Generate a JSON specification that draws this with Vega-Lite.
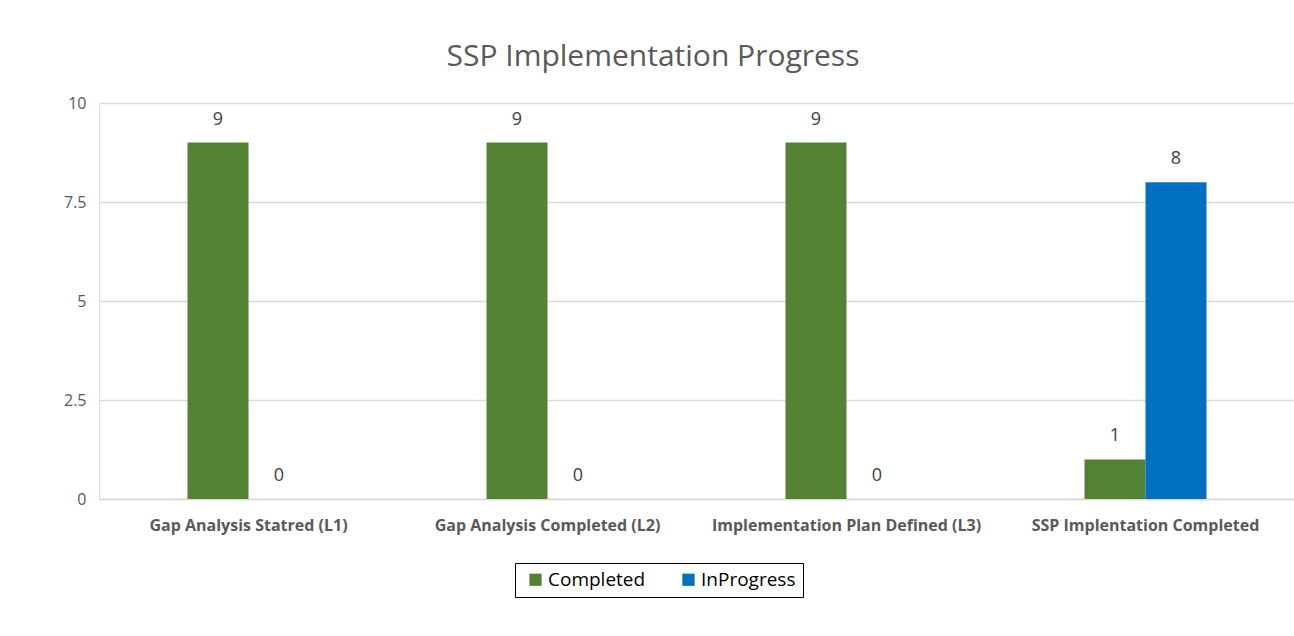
{
  "$schema": "https://vega.github.io/schema/vega-lite/v6.json",
  "width": 1196,
  "height": 396,
  "autosize": {"type": "none"},
  "padding": {"left": 99, "top": 103, "right": 0, "bottom": 137},
  "background": "white",
  "title": {
    "text": "SSP Implementation Progress",
    "fontSize": 30,
    "font": "Open Sans",
    "fontWeight": "normal",
    "color": "#595959",
    "dx": -44,
    "offset": 23
  },
  "data": {
    "values": [
      {"category": "Gap Analysis Statred (L1)", "status": "Completed", "value": 9},
      {"category": "Gap Analysis Statred (L1)", "status": "InProgress", "value": 0},
      {"category": "Gap Analysis Completed  (L2)", "status": "Completed", "value": 9},
      {"category": "Gap Analysis Completed  (L2)", "status": "InProgress", "value": 0},
      {"category": "Implementation Plan Defined (L3)", "status": "Completed", "value": 9},
      {"category": "Implementation Plan Defined (L3)", "status": "InProgress", "value": 0},
      {"category": "SSP Implentation Completed", "status": "Completed", "value": 1},
      {"category": "SSP Implentation Completed", "status": "InProgress", "value": 8}
    ]
  },
  "encoding": {
    "x": {
      "field": "category",
      "type": "nominal",
      "sort": null,
      "title": null,
      "scale": {"paddingInner": 0.592, "paddingOuter": 0.296},
      "axis": {
        "labelAngle": 0,
        "labelFont": "Open Sans",
        "labelFontSize": 16,
        "labelFontWeight": "bold",
        "labelColor": "#595959",
        "labelPadding": 18,
        "ticks": false,
        "domainColor": "#d9d9d9",
        "domainWidth": 1.5,
        "labelLimit": 300
      }
    },
    "xOffset": {"field": "status", "type": "nominal", "sort": ["Completed", "InProgress"]},
    "y": {
      "field": "value",
      "type": "quantitative",
      "title": null,
      "scale": {"domain": [0, 10]},
      "axis": {
        "values": [0, 2.5, 5, 7.5, 10],
        "labelExpr": "toString(datum.value)",
        "labelFont": "Open Sans",
        "labelFontSize": 16,
        "labelColor": "#595959",
        "labelPadding": 13,
        "ticks": false,
        "domain": false,
        "gridColor": "#d9d9d9",
        "gridWidth": 1.5
      }
    }
  },
  "layer": [
    {
      "mark": {"type": "bar"},
      "encoding": {
        "color": {
          "field": "status",
          "type": "nominal",
          "scale": {"domain": ["Completed", "InProgress"], "range": ["#548235", "#0070C0"]},
          "legend": {
            "title": null,
            "orient": "none",
            "legendX": 416,
            "legendY": 460,
            "direction": "horizontal",
            "strokeColor": "black",
            "padding": 7,
            "symbolType": "square",
            "symbolSize": 150,
            "symbolStrokeWidth": 0,
            "symbolOffset": 4,
            "labelFont": "Open Sans",
            "labelFontSize": 19,
            "labelOffset": 3,
            "labelColor": "#000000",
            "columnPadding": 29
          }
        }
      }
    },
    {
      "mark": {"type": "text", "dy": -18, "baseline": "alphabetic", "fontSize": 18, "font": "Open Sans", "color": "#404040"},
      "encoding": {"text": {"field": "value", "type": "quantitative"}}
    }
  ]
}
